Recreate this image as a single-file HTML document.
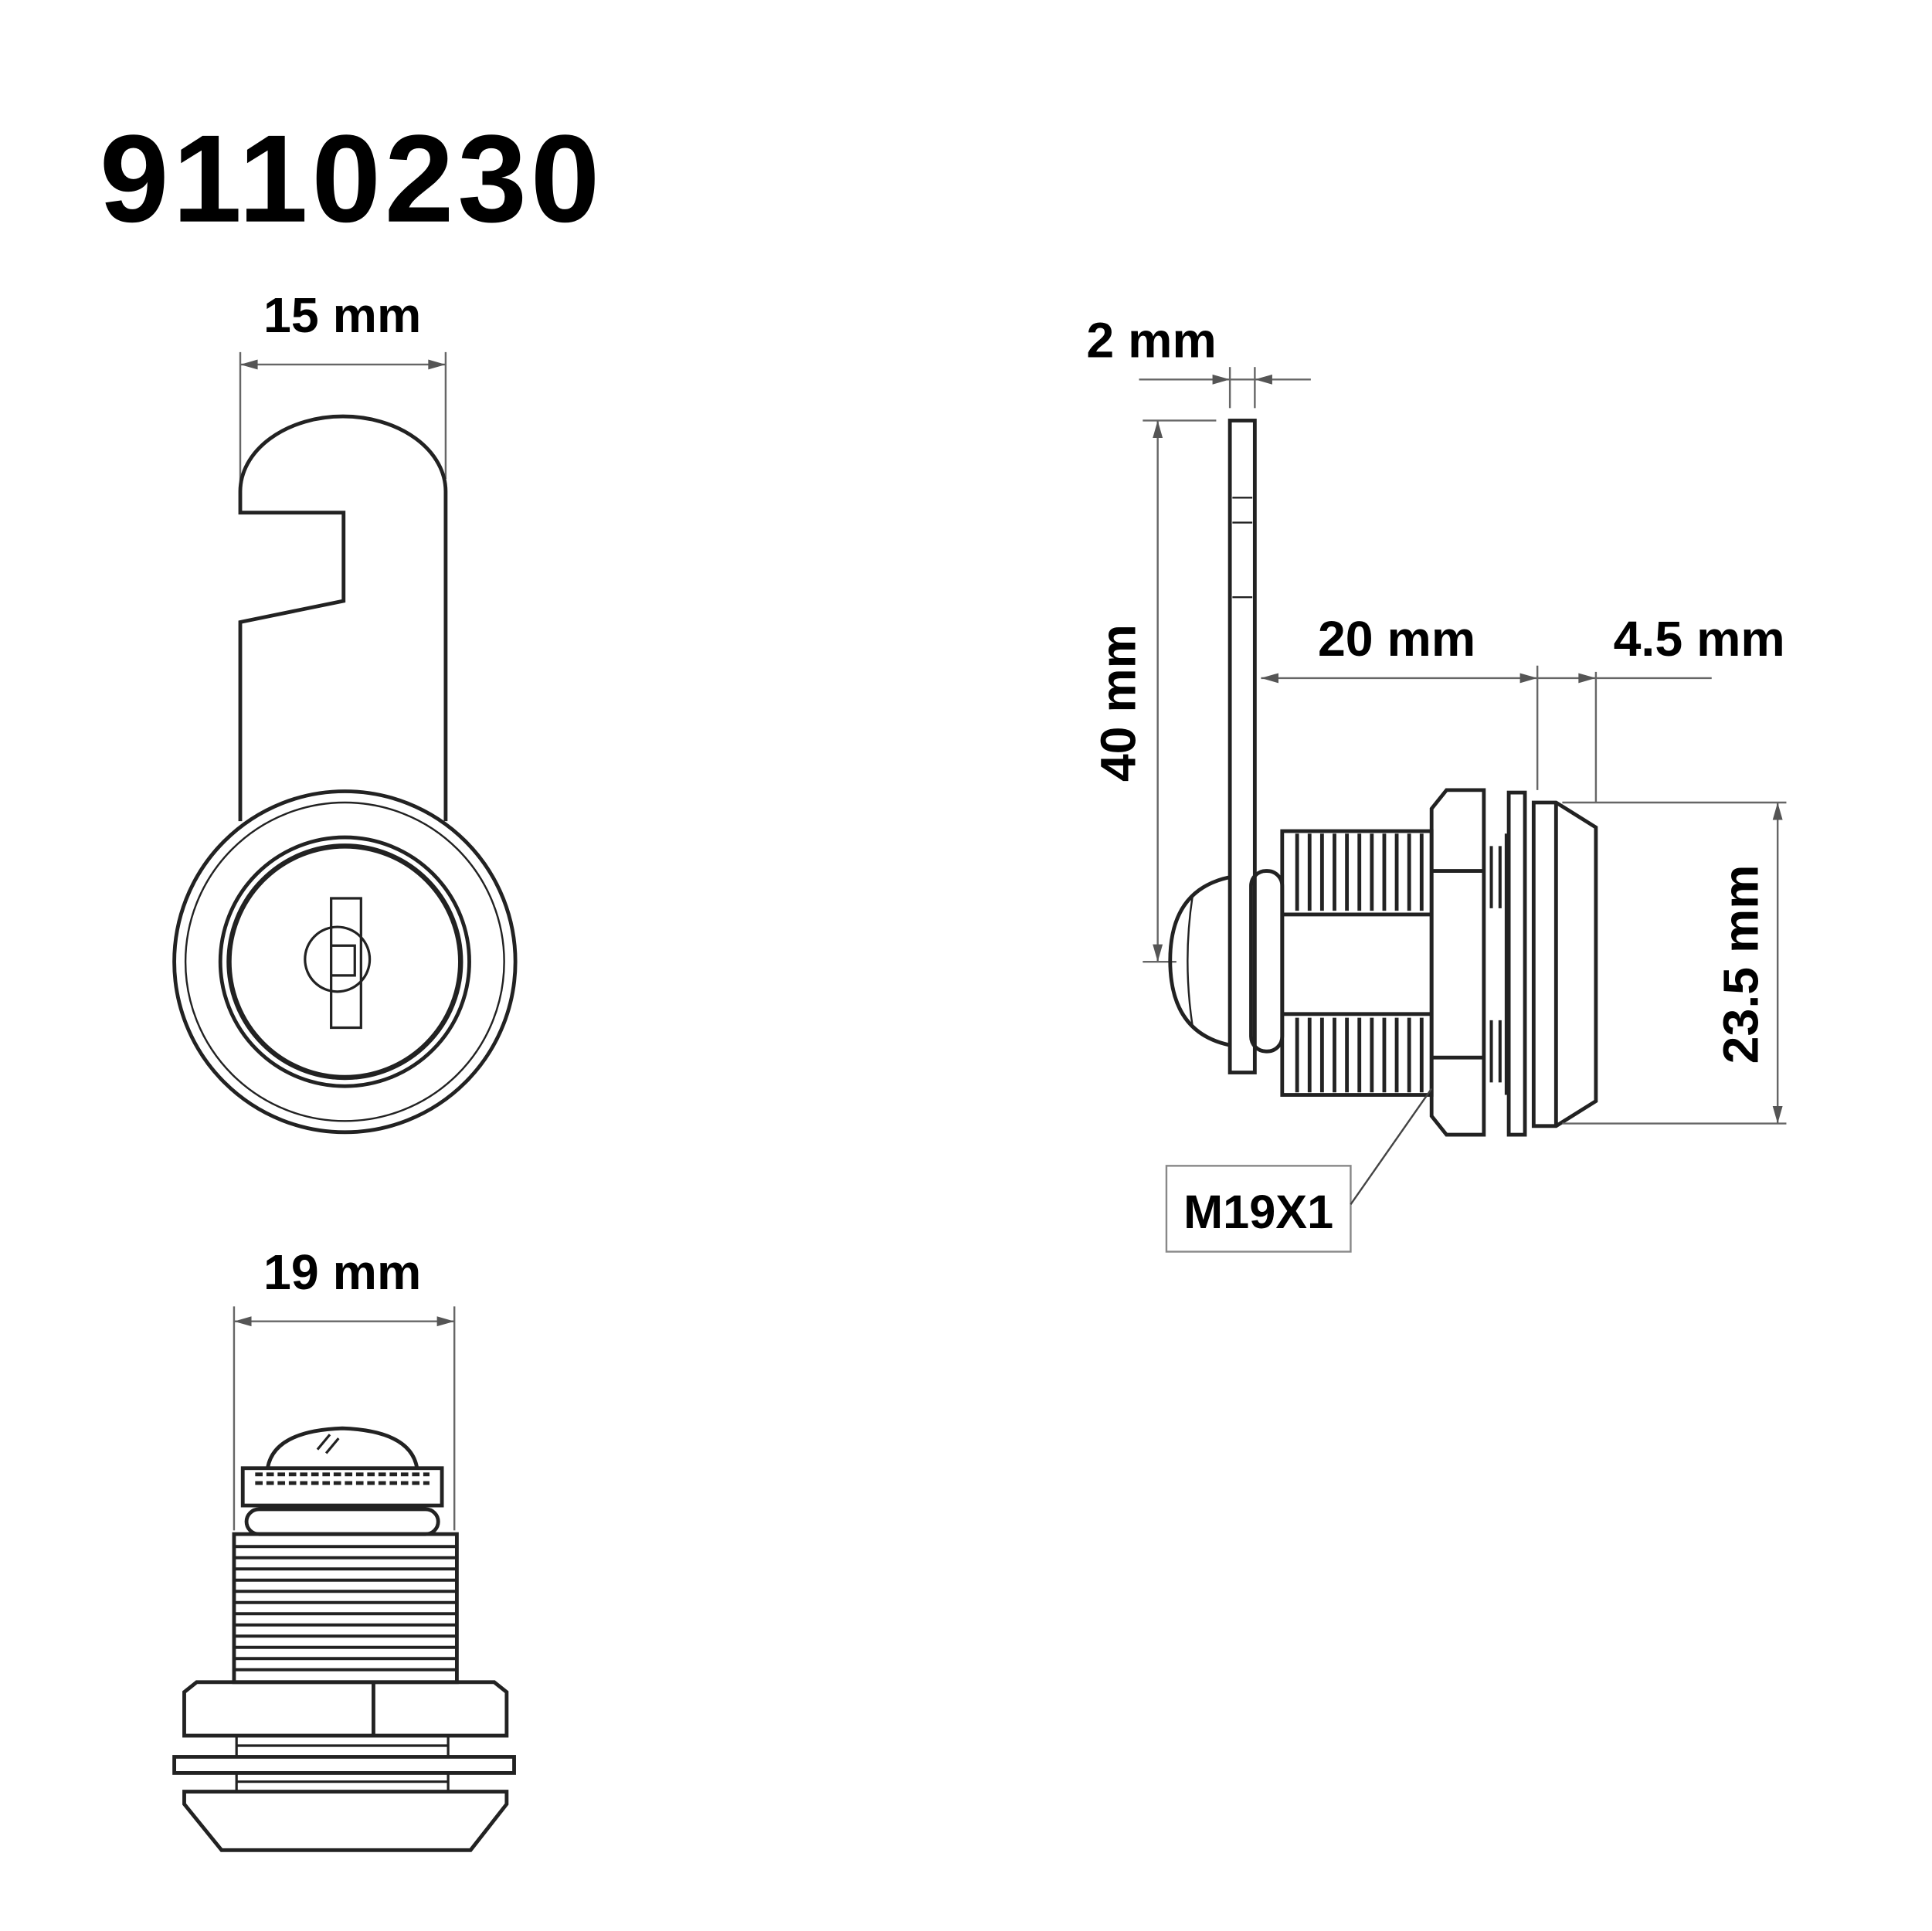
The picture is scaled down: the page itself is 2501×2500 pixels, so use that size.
<!DOCTYPE html>
<html><head><meta charset="utf-8"><style>
html,body{margin:0;padding:0;background:#fff;}
svg{display:block;}
text{font-family:"Liberation Sans",sans-serif;font-weight:bold;fill:#000;}
</style></head><body>
<svg width="2501" height="2500" viewBox="0 0 1552 1552" preserveAspectRatio="none" xmlns="http://www.w3.org/2000/svg">
<rect width="1552" height="1552" fill="#fff"/>
<text x="80" y="178" font-size="100" letter-spacing="3">9110230</text>

<g stroke="#222" fill="none" stroke-width="3">
<!-- top left view -->
<line x1="193" y1="283" x2="193" y2="395" stroke="#666" stroke-width="1.5"/>
<line x1="358" y1="283" x2="358" y2="385" stroke="#666" stroke-width="1.5"/>
<line x1="193" y1="293" x2="358" y2="293" stroke="#666" stroke-width="1.5"/>
<path d="M193 293 l14 -4 v8z M358 293 l-14 -4 v8z" fill="#555" stroke="none"/>
<path d="M193 660 V500 L276 483 V412 H193 V395 A82 60 0 0 1 358 395 V660"/>
<circle cx="277" cy="773" r="137"/>
<circle cx="277" cy="773" r="128" stroke-width="1.5"/>
<circle cx="277" cy="773" r="100"/>
<circle cx="277" cy="773" r="93" stroke-width="4"/>
<circle cx="271" cy="771" r="26" stroke-width="2"/>
<path d="M266 722 H290 V826 H266Z M266 760 H285 V784 H266" stroke-width="2"/>

<!-- bottom left view -->
<line x1="188" y1="1050" x2="188" y2="1230" stroke="#666" stroke-width="1.5"/>
<line x1="365" y1="1050" x2="365" y2="1230" stroke="#666" stroke-width="1.5"/>
<line x1="188" y1="1062" x2="365" y2="1062" stroke="#666" stroke-width="1.5"/>
<path d="M188 1062 l14 -4 v8z M365 1062 l-14 -4 v8z" fill="#555" stroke="none"/>
<path d="M215 1180 Q220 1150 275 1148 Q330 1150 335 1180"/>
<path d="M255 1165 l10 -12 M262 1168 l10 -12" stroke-width="2"/>
<rect x="195" y="1180" width="160" height="30"/>
<path d="M205 1185 h140 M205 1192 h140" stroke-width="3" stroke-dasharray="6 3"/>
<rect x="198" y="1213" width="154" height="20" rx="10"/>
<rect x="188" y="1233" width="179" height="119"/>
<path d="M188 1243h179M188 1252h179M188 1261h179M188 1270h179M188 1279h179M188 1288h179M188 1297h179M188 1306h179M188 1315h179M188 1324h179M188 1333h179M188 1342h179" stroke-width="2.5"/>
<path d="M148 1395 V1360 L158 1352 H397 L407 1360 V1395 Z M300 1352 V1395"/>
<path d="M190 1395 V1412 M360 1395 V1412 M190 1425 V1440 M360 1425 V1440 M190 1403 h170 M190 1432 h170" stroke-width="2"/>
<rect x="140" y="1412" width="273" height="13"/>
<path d="M148 1440 H407 V1450 L378 1487 H178 L148 1450 Z"/>

<!-- right view -->
<line x1="988" y1="295" x2="988" y2="328" stroke="#666" stroke-width="1.5"/>
<line x1="1008" y1="295" x2="1008" y2="328" stroke="#666" stroke-width="1.5"/>
<line x1="915" y1="305" x2="1053" y2="305" stroke="#666" stroke-width="1.5"/>
<path d="M988 305 l-14 -4 v8z M1008 305 l14 -4 v8z" fill="#555" stroke="none"/>
<rect x="988" y="338" width="20" height="524"/>
<path d="M990 400h16M990 420h16M990 480h16" stroke-width="1.5"/>
<line x1="918" y1="338" x2="977" y2="338" stroke="#666" stroke-width="1.5"/>
<line x1="918" y1="773" x2="945" y2="773" stroke="#666" stroke-width="1.5"/>
<line x1="930" y1="338" x2="930" y2="773" stroke="#666" stroke-width="1.5"/>
<path d="M930 338 l-4 14 h8z M930 773 l-4 -14 h8z" fill="#555" stroke="none"/>
<line x1="1013" y1="545" x2="1375" y2="545" stroke="#666" stroke-width="1.5"/>
<path d="M1013 545 l14 -4 v8z M1235 545 l-14 -4 v8z M1282 545 l-14 -4 v8z" fill="#555" stroke="none"/>
<line x1="1235" y1="535" x2="1235" y2="635" stroke="#666" stroke-width="1.5"/>
<line x1="1282" y1="540" x2="1282" y2="645" stroke="#666" stroke-width="1.5"/>
<path d="M988 705 Q940 715 940 772 Q940 830 988 840"/>
<path d="M958 720 Q950 772 958 825" stroke-width="1.5"/>
<rect x="1005" y="700" width="25" height="145" rx="12"/>
<rect x="1030" y="668" width="120" height="212"/>
<g stroke-width="3">
<path d="M1042 670v62M1052 670v62M1062 670v62M1072 670v62M1082 670v62M1092 670v62M1102 670v62M1112 670v62M1122 670v62M1132 670v62M1142 670v62"/>
<path d="M1042 818v60M1052 818v60M1062 818v60M1072 818v60M1082 818v60M1092 818v60M1102 818v60M1112 818v60M1122 818v60M1132 818v60M1142 818v60"/>
</g>
<path d="M1030 735 H1150 M1030 815 H1150"/>
<path d="M1150 650 L1162 635 H1192 V912 H1162 L1150 897 Z M1150 700 H1192 M1150 850 H1192"/>
<path d="M1192 670 V880 M1210 670 V880 M1198 680v50M1205 680v50M1198 820v50M1205 820v50" stroke-width="2.5"/>
<rect x="1212" y="637" width="13" height="275"/>
<path d="M1232 645 H1250 L1282 665 V885 L1250 905 H1232 Z M1250 645 V905"/>
<line x1="1255" y1="645" x2="1435" y2="645" stroke="#666" stroke-width="1.5"/>
<line x1="1255" y1="903" x2="1435" y2="903" stroke="#666" stroke-width="1.5"/>
<line x1="1428" y1="645" x2="1428" y2="903" stroke="#666" stroke-width="1.5"/>
<path d="M1428 645 l-4 14 h8z M1428 903 l-4 -14 h8z" fill="#555" stroke="none"/>
<rect x="937" y="937" width="148" height="69" stroke="#888" stroke-width="1.5"/>
<line x1="1085" y1="968" x2="1150" y2="875" stroke="#444" stroke-width="1.5"/>
</g>

<text x="275" y="267" font-size="40" text-anchor="middle">15 mm</text>
<text x="275" y="1036" font-size="40" text-anchor="middle">19 mm</text>
<text x="925" y="287" font-size="40" text-anchor="middle">2 mm</text>
<text x="1122" y="527" font-size="40" text-anchor="middle">20 mm</text>
<text x="1365" y="527" font-size="40" text-anchor="middle">4.5 mm</text>
<text transform="translate(912,565) rotate(-90)" font-size="40" text-anchor="middle">40 mm</text>
<text transform="translate(1412,775) rotate(-90)" font-size="40" text-anchor="middle">23.5 mm</text>
<text x="1011" y="987" font-size="38" text-anchor="middle">M19X1</text>
</svg>
</body></html>
